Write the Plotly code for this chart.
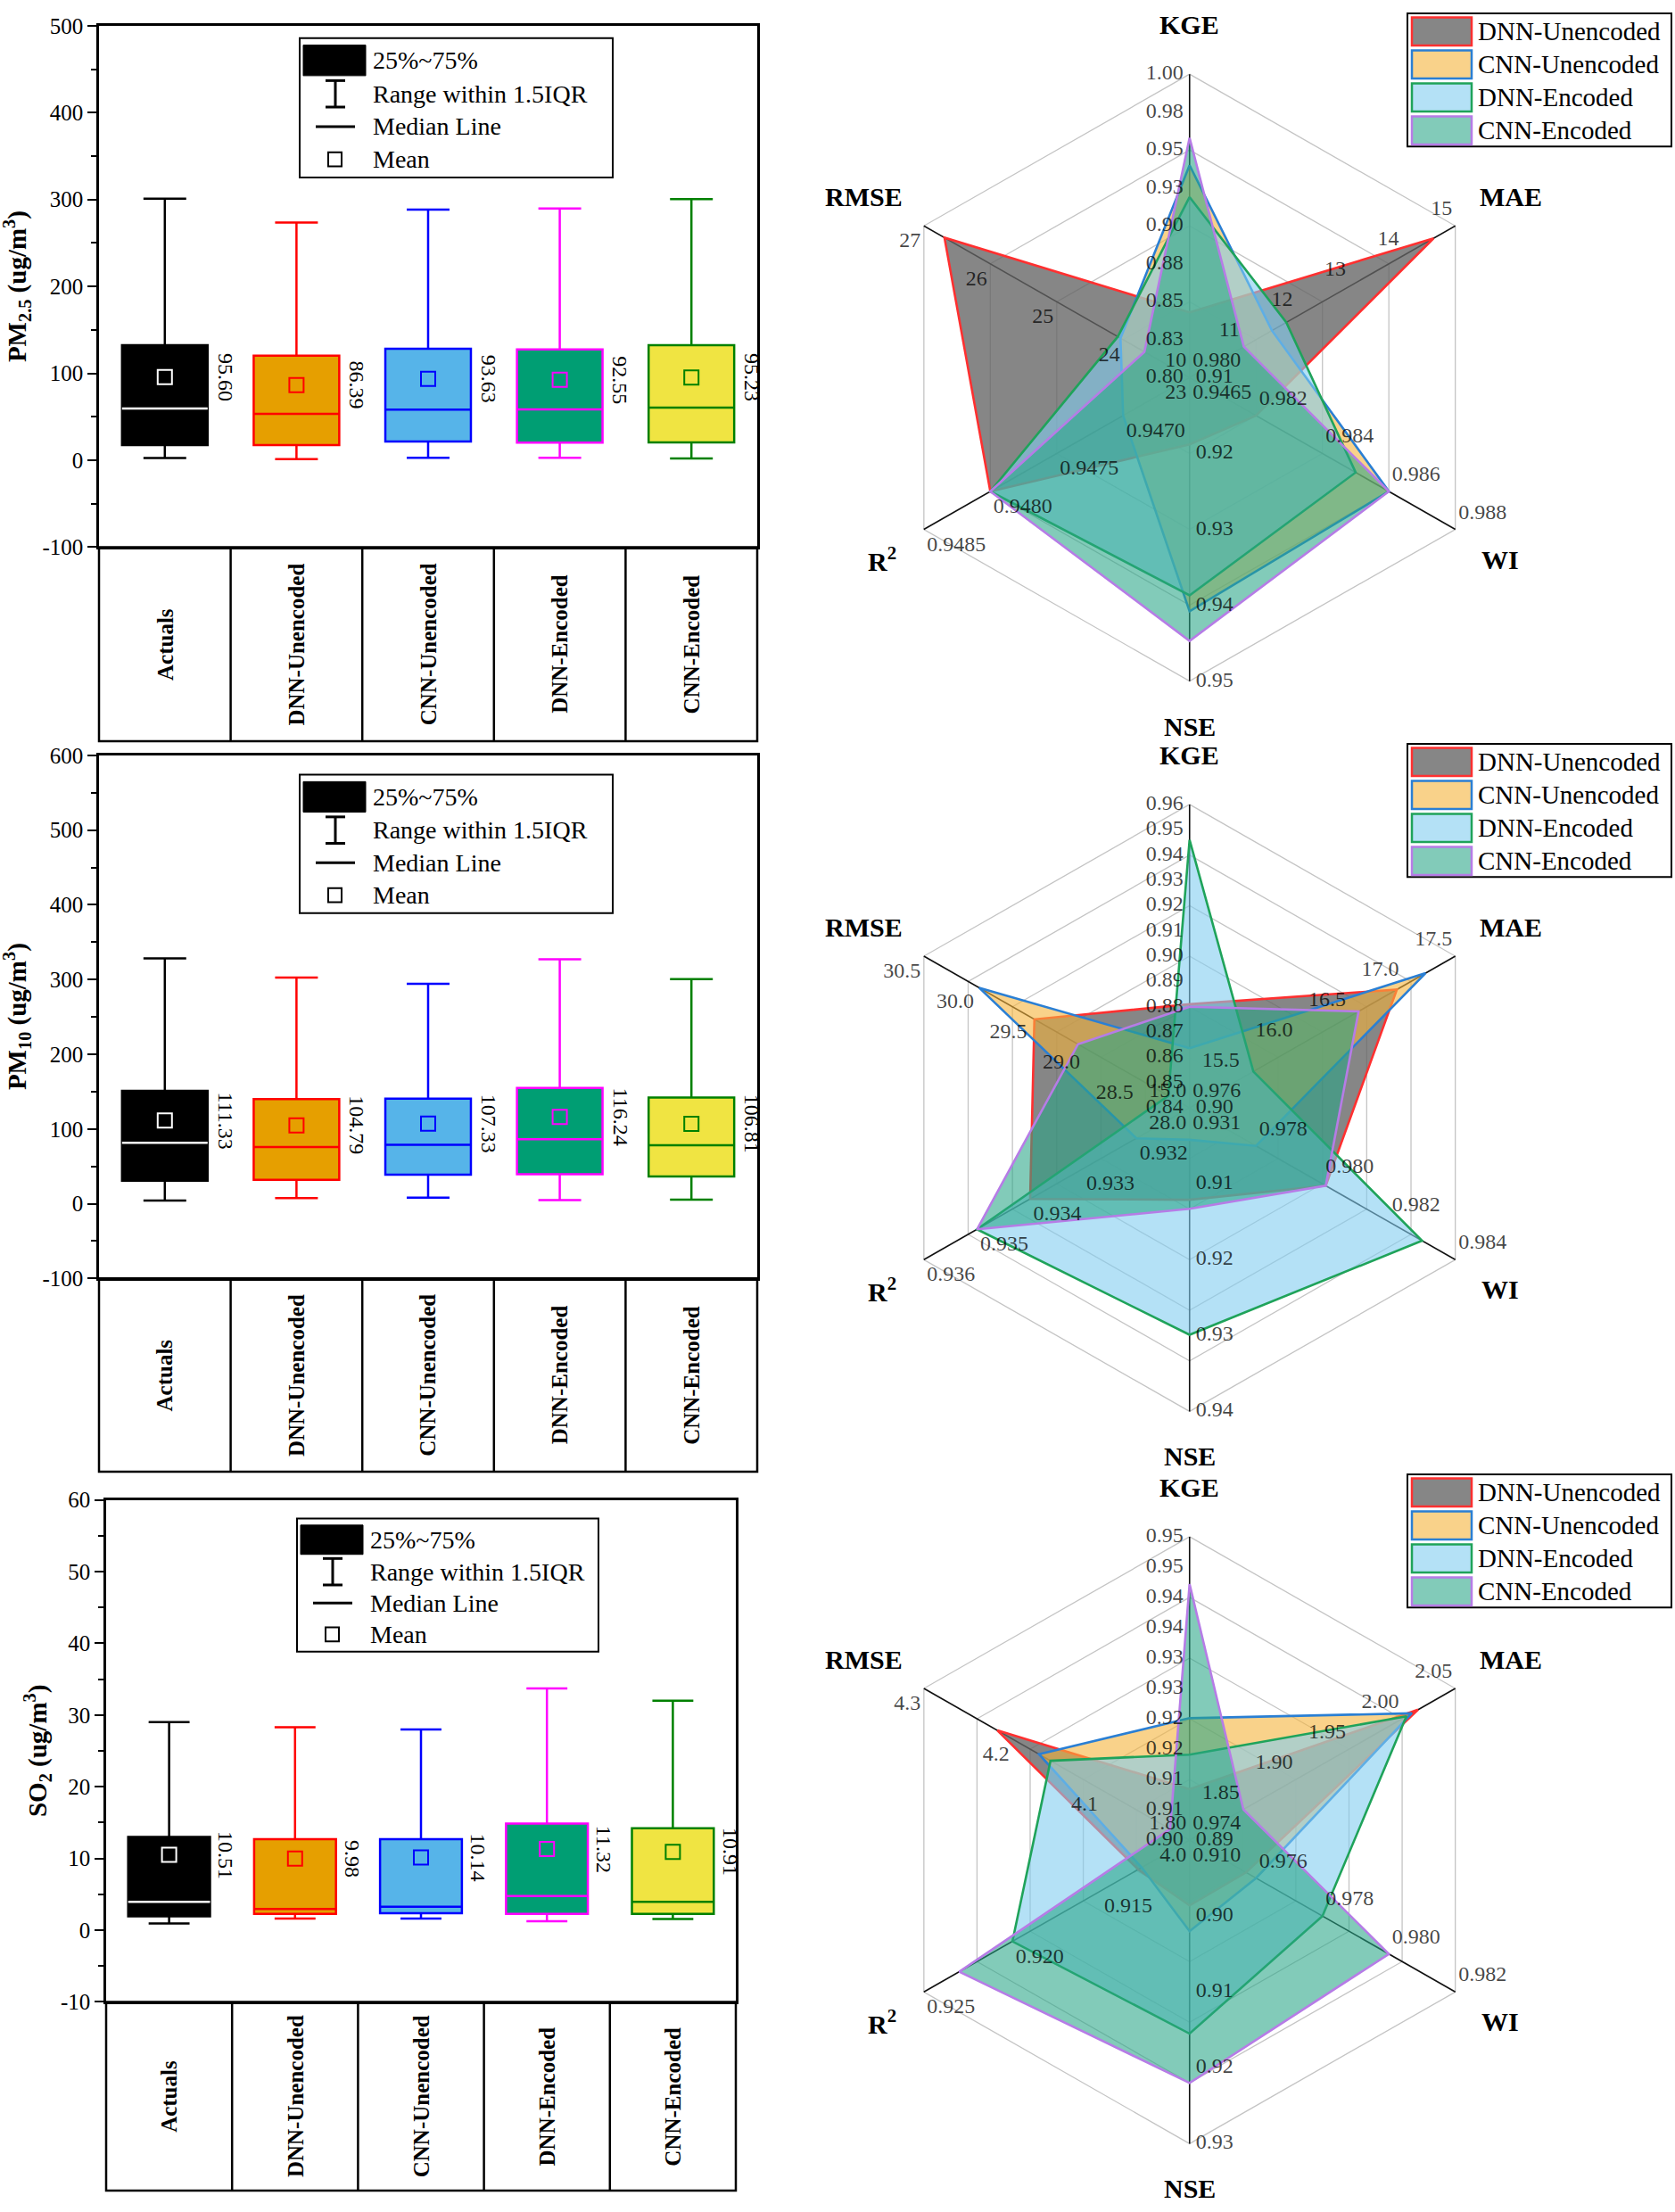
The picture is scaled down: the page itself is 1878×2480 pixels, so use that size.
import numpy as np
import plotly.graph_objects as go

W, H = 1878, 2480
SERIF = "Liberation Serif, Times New Roman, serif"


def px_x(px):
    return px / W


def px_y(py):
    return 1 - py / H


# ---------------- box plot data ----------------
categories = ["Actuals", "DNN-Unencoded", "CNN-Unencoded", "DNN-Encoded", "CNN-Encoded"]

pm25_lower = [2.5, 1.3, 2.9, 2.9, 2.1]
pm25_q1 = [17.4, 17.4, 21.4, 20.2, 20.6]
pm25_median = [59.4, 53.4, 58.2, 58.6, 60.6]
pm25_q3 = [132.3, 120.3, 128.3, 127.5, 132.3]
pm25_upper = [301.0, 273.5, 288.5, 289.7, 300.5]
pm25_mean = [95.60, 86.39, 93.63, 92.55, 95.23]

pm10_lower = [4.3, 7.4, 8.0, 4.9, 5.6]
pm10_q1 = [30.9, 32.1, 38.9, 39.5, 36.4]
pm10_median = [81.5, 75.9, 79.0, 86.4, 78.4]
pm10_q3 = [151.2, 140.1, 140.7, 154.9, 142.0]
pm10_upper = [328.4, 302.5, 294.4, 327.2, 300.6]
pm10_mean = [111.33, 104.79, 107.33, 116.24, 106.81]

so2_lower = [0.94, 1.63, 1.63, 1.25, 1.57]
so2_q1 = [1.94, 2.26, 2.38, 2.26, 2.26]
so2_median = [3.95, 2.95, 3.26, 4.76, 3.95]
so2_q3 = [13.0, 12.7, 12.7, 14.86, 14.2]
so2_upper = [29.0, 28.3, 28.0, 33.7, 32.0]
so2_mean = [10.51, 9.98, 10.14, 11.32, 10.91]

pm25_yticks = [-100, 0, 100, 200, 300, 400, 500]
pm10_yticks = [-100, 0, 100, 200, 300, 400, 500, 600]
so2_yticks = [-10, 0, 10, 20, 30, 40, 50, 60]

box_fill_colors = ["#000000", "#E69F00", "#56B4E9", "#009E73", "#F0E442"]
box_line_colors = ["#000000", "#FF0000", "#0000FF", "#FF00FF", "#008000"]
mean_colors = ["#FFFFFF", "#FF0000", "#0000FF", "#FF00FF", "#008000"]

box_key_labels = ["25%~75%", "Range within 1.5IQR", "Median Line", "Mean"]

# ---------------- radar data ----------------
radar_metrics = ["KGE", "MAE", "WI", "NSE", "R<sup>2</sup>", "RMSE"]
radar_series_names = ["DNN-Unencoded", "CNN-Unencoded", "DNN-Encoded", "CNN-Encoded"]

pm25_radar_min = [0.80, 10.0, 0.980, 0.91, 0.9465, 23.0]
pm25_radar_max = [1.00, 15.0, 0.988, 0.95, 0.9485, 27.0]
pm25_radar_ticks = [
    ["0.80", "0.83", "0.85", "0.88", "0.90", "0.93", "0.95", "0.98", "1.00"],
    ["10", "11", "12", "13", "14", "15"],
    ["0.980", "0.982", "0.984", "0.986", "0.988"],
    ["0.91", "0.92", "0.93", "0.94", "0.95"],
    ["0.9465", "0.9470", "0.9475", "0.9480", "0.9485"],
    ["23", "24", "25", "26", "27"],
]
pm25_dnn_unenc = [0.843, 14.59, 0.9820, 0.9188, 0.9480, 26.69]
pm25_cnn_unenc = [0.940, 11.55, 0.9860, 0.9408, 0.9470, 24.04]
pm25_dnn_enc = [0.919, 11.82, 0.9850, 0.9387, 0.9480, 24.08]
pm25_cnn_enc = [0.958, 11.02, 0.9860, 0.9447, 0.9480, 23.68]

pm10_radar_min = [0.84, 15.0, 0.976, 0.90, 0.931, 28.0]
pm10_radar_max = [0.96, 17.5, 0.984, 0.94, 0.936, 30.5]
pm10_radar_ticks = [
    ["0.84", "0.85", "0.86", "0.87", "0.88", "0.89", "0.90", "0.91", "0.92", "0.93", "0.94", "0.95", "0.96"],
    ["15.0", "15.5", "16.0", "16.5", "17.0", "17.5"],
    ["0.976", "0.978", "0.980", "0.982", "0.984"],
    ["0.90", "0.91", "0.92", "0.93", "0.94"],
    ["0.931", "0.932", "0.933", "0.934", "0.935", "0.936"],
    ["28.0", "28.5", "29.0", "29.5", "30.0", "30.5"],
]
pm10_dnn_unenc = [0.881, 16.95, 0.9801, 0.9121, 0.9340, 29.46]
pm10_cnn_unenc = [0.8636, 17.22, 0.9780, 0.9042, 0.9320, 29.98]
pm10_dnn_enc = [0.946, 15.60, 0.9830, 0.9299, 0.9350, 28.20]
pm10_cnn_enc = [0.880, 16.59, 0.9801, 0.9133, 0.9350, 29.05]

so2_radar_min = [0.90, 1.80, 0.974, 0.89, 0.910, 4.0]
so2_radar_max = [0.95, 2.05, 0.982, 0.93, 0.925, 4.3]
so2_radar_ticks = [
    ["0.90", "0.91", "0.91", "0.92", "0.92", "0.93", "0.93", "0.94", "0.94", "0.95", "0.95"],
    ["1.80", "1.85", "1.90", "1.95", "2.00", "2.05"],
    ["0.974", "0.976", "0.978", "0.980", "0.982"],
    ["0.89", "0.90", "0.91", "0.92", "0.93"],
    ["0.910", "0.915", "0.920", "0.925"],
    ["4.0", "4.1", "4.2", "4.3"],
]
so2_dnn_unenc = [0.9084, 2.015, 0.9757, 0.8986, 0.9129, 4.217]
so2_cnn_unenc = [0.9201, 2.009, 0.9760, 0.9020, 0.9127, 4.170]
so2_dnn_enc = [0.9141, 2.004, 0.9780, 0.9155, 0.9200, 4.157]
so2_cnn_enc = [0.9422, 1.8506, 0.9800, 0.9220, 0.9230, 4.022]

radar_fill = ["rgba(100,100,100,0.78)", "rgba(245,180,60,0.6)",
              "rgba(130,205,240,0.6)", "rgba(40,165,135,0.58)"]
radar_line = ["#FF3030", "#2A7FD4", "#1FA35A", "#B67CE6"]

# ---------------- layout config (positions / styles) ----------------
box_panels = [
    dict(lower=pm25_lower, q1=pm25_q1, median=pm25_median, q3=pm25_q3, upper=pm25_upper, mean=pm25_mean,
         yticks=pm25_yticks, title="<b>PM<sub>2.5</sub> (ug/m<sup>3</sup>)</b>", minor=50,
         left=111, right=849, top=16, axis=607, bottom=827, title_x=19, legend=(336, 30, 687, 188), shift=68),
    dict(lower=pm10_lower, q1=pm10_q1, median=pm10_median, q3=pm10_q3, upper=pm10_upper, mean=pm10_mean,
         yticks=pm10_yticks, title="<b>PM<sub>10</sub> (ug/m<sup>3</sup>)</b>", minor=50,
         left=111, right=849, top=843, axis=1436, bottom=1655, title_x=19, legend=(336, 865, 687, 1022), shift=68),
    dict(lower=so2_lower, q1=so2_q1, median=so2_median, q3=so2_q3, upper=so2_upper, mean=so2_mean,
         yticks=so2_yticks, title="<b>SO<sub>2</sub> (ug/m<sup>3</sup>)</b>", minor=5,
         left=119, right=825, top=1687, axis=2256, bottom=2470, title_x=42, legend=(333, 1708, 671, 1859), shift=64),
]

radar_panels = [
    dict(mn=pm25_radar_min, mx=pm25_radar_max, ticks=pm25_radar_ticks, rings=4,
         series=[pm25_dnn_unenc, pm25_cnn_unenc, pm25_dnn_enc, pm25_cnn_enc], cy=414.9, legend_y0=2),
    dict(mn=pm10_radar_min, mx=pm10_radar_max, ticks=pm10_radar_ticks, rings=6,
         series=[pm10_dnn_unenc, pm10_cnn_unenc, pm10_dnn_enc, pm10_cnn_enc], cy=1242.7, legend_y0=830),
    dict(mn=so2_radar_min, mx=so2_radar_max, ticks=so2_radar_ticks, rings=5,
         series=[so2_dnn_unenc, so2_cnn_unenc, so2_dnn_enc, so2_cnn_enc], cy=2072.7, legend_y0=1658),
]
radar_cx = 1333.75
radar_R = 344.0
radar_half_w = 460.0
radar_half_h = 400.0
radar_angles = [90, 30, -30, -90, -150, 150]
radar_label_pos = ["middle left", "top left", "top right", "middle right", "bottom right", "bottom left"]
radar_title_offsets = [(0, -56), (62, -33), (50, 34), (0, 51), (-47, 34), (-67, -33)]

fig = go.Figure()
layout = dict(width=W, height=H, margin=dict(l=0, r=0, t=0, b=0),
              paper_bgcolor="white", plot_bgcolor="white", showlegend=False,
              boxmode="overlay", font=dict(family=SERIF, color="black"))
shapes = []
annotations = []


def add_text(x, y, text, size, xref="paper", yref="paper", angle=0, xanchor="center", **kw):
    annotations.append(dict(x=x, y=y, xref=xref, yref=yref, text=text, textangle=angle,
                            xanchor=xanchor, yanchor="middle", showarrow=False,
                            font=dict(family=SERIF, size=size, color="black"), **kw))


# ---------------- box plots ----------------
for i, p in enumerate(box_panels):
    idx = i + 1
    xname = "xaxis" if idx == 1 else f"xaxis{idx}"
    yname = "yaxis" if idx == 1 else f"yaxis{idx}"
    xref = "x" if idx == 1 else f"x{idx}"
    yref = "y" if idx == 1 else f"y{idx}"

    for c, cat in enumerate(categories):
        fig.add_trace(go.Box(
            x=[cat], q1=[p["q1"][c]], median=[p["median"][c]], q3=[p["q3"][c]],
            lowerfence=[p["lower"][c]], upperfence=[p["upper"][c]],
            fillcolor=box_fill_colors[c], line=dict(color=box_line_colors[c], width=2.5),
            width=0.65, whiskerwidth=0.5, boxpoints=False, xaxis=xref, yaxis=yref,
            hoverinfo="skip", showlegend=False))
    # white median line on the black Actuals box
    m0 = p["median"][0]
    fig.add_trace(go.Box(
        x=[categories[0]], q1=[m0], median=[m0], q3=[m0], lowerfence=[m0], upperfence=[m0],
        fillcolor="white", line=dict(color="white", width=2.5), width=0.65, whiskerwidth=0,
        boxpoints=False, xaxis=xref, yaxis=yref, hoverinfo="skip", showlegend=False))
    # means
    fig.add_trace(go.Scatter(
        x=categories, y=p["mean"], mode="markers",
        marker=dict(symbol="square-open", size=16, color=mean_colors, line=dict(width=2)),
        xaxis=xref, yaxis=yref, hoverinfo="skip", showlegend=False, cliponaxis=False))

    yt = p["yticks"]
    layout[xname] = dict(domain=[px_x(p["left"]), px_x(p["right"])], anchor=yref, type="category",
                         categoryorder="array", categoryarray=categories, range=[-0.5, 4.5],
                         showticklabels=False, ticks="", showline=True, mirror=True,
                         linecolor="black", linewidth=2.5, showgrid=False, zeroline=False, fixedrange=True)
    layout[yname] = dict(domain=[px_y(p["axis"]), px_y(p["top"])], anchor=xref, range=[yt[0], yt[-1]],
                         tickmode="array", tickvals=yt, ticktext=[str(v) for v in yt],
                         ticks="outside", ticklen=10, tickwidth=2, tickcolor="black",
                         showline=True, mirror=True, linecolor="black", linewidth=2.5,
                         showgrid=False, zeroline=False, fixedrange=True,
                         tickfont=dict(family=SERIF, size=25, color="black"),
                         minor=dict(ticks="outside", ticklen=6, tickwidth=2, tickcolor="black",
                                    tickmode="linear", tick0=yt[0], dtick=p["minor"], showgrid=False))

    # category panel below
    shapes.append(dict(type="rect", xref="paper", yref="paper",
                       x0=px_x(p["left"]), x1=px_x(p["right"]), y0=px_y(p["bottom"]), y1=px_y(p["axis"]),
                       line=dict(color="black", width=2.5), fillcolor="rgba(0,0,0,0)", layer="above"))
    for k in range(1, len(categories)):
        shapes.append(dict(type="line", xref=xref, yref="paper", x0=k - 0.5, x1=k - 0.5,
                           y0=px_y(p["bottom"]), y1=px_y(p["axis"]),
                           line=dict(color="black", width=2.5)))
    for c, cat in enumerate(categories):
        add_text(cat, px_y((p["axis"] + p["bottom"]) / 2), f"<b>{cat}</b>", 25, xref=xref, angle=-90)
        add_text(cat, p["mean"][c], f"{p['mean'][c]:.2f}", 24, xref=xref, yref=yref, angle=90,
                 xshift=p["shift"])
    # y title
    add_text(px_x(p["title_x"]), px_y((p["top"] + p["axis"]) / 2), p["title"], 29, angle=-90)

    # key box
    x0, y0, x1, y1 = p["legend"]
    hh = y1 - y0
    rows = [y0 + hh * f for f in (0.16, 0.40, 0.635, 0.87)]
    shapes.append(dict(type="rect", xref="paper", yref="paper", x0=px_x(x0), x1=px_x(x1),
                       y0=px_y(y1), y1=px_y(y0), line=dict(color="black", width=2), fillcolor="white"))
    shapes.append(dict(type="rect", xref="paper", yref="paper", x0=px_x(x0 + 4), x1=px_x(x0 + 74),
                       y0=px_y(rows[0] + hh * 0.11), y1=px_y(rows[0] - hh * 0.11),
                       line=dict(color="black", width=1), fillcolor="black"))
    wx = x0 + 40
    shapes.append(dict(type="line", xref="paper", yref="paper", x0=px_x(wx), x1=px_x(wx),
                       y0=px_y(rows[1] - 15), y1=px_y(rows[1] + 15), line=dict(color="black", width=3)))
    for dy in (-15, 15):
        shapes.append(dict(type="line", xref="paper", yref="paper", x0=px_x(wx - 11), x1=px_x(wx + 11),
                           y0=px_y(rows[1] + dy), y1=px_y(rows[1] + dy), line=dict(color="black", width=3)))
    shapes.append(dict(type="line", xref="paper", yref="paper", x0=px_x(x0 + 18), x1=px_x(x0 + 62),
                       y0=px_y(rows[2]), y1=px_y(rows[2]), line=dict(color="black", width=3)))
    shapes.append(dict(type="rect", xref="paper", yref="paper", x0=px_x(x0 + 32), x1=px_x(x0 + 47),
                       y0=px_y(rows[3] + 8), y1=px_y(rows[3] - 8), line=dict(color="black", width=2),
                       fillcolor="white"))
    for r_, lab in zip(rows, box_key_labels):
        add_text(px_x(x0 + 80), px_y(r_), lab, 28, xanchor="left")

# ---------------- radar charts ----------------
th = np.radians(radar_angles)
ux, uy = np.cos(th), np.sin(th)
for i, p in enumerate(radar_panels):
    idx = 4 + i
    xref, yref = f"x{idx}", f"y{idx}"
    R = radar_R
    cy = p["cy"]
    common = dict(xaxis=xref, yaxis=yref, hoverinfo="skip", showlegend=False)

    rx, ry = [], []
    for k in range(1, p["rings"] + 1):
        f = k / p["rings"]
        rx += list(f * ux) + [f * ux[0], None]
        ry += list(f * uy) + [f * uy[0], None]
    fig.add_trace(go.Scatter(x=rx, y=ry, mode="lines", line=dict(color="#C4C4C4", width=1.3), **common))

    sx, sy = [], []
    for j in range(6):
        sx += [0, ux[j], None]
        sy += [0, uy[j], None]
    fig.add_trace(go.Scatter(x=sx, y=sy, mode="lines", line=dict(color="#111111", width=1.6), **common))

    mn = np.array(p["mn"])
    mx = np.array(p["mx"])
    for s in range(4):
        vals = np.array(p["series"][s])
        nr = (vals - mn) / (mx - mn)
        xs = list(nr * ux) + [nr[0] * ux[0]]
        ys = list(nr * uy) + [nr[0] * uy[0]]
        fig.add_trace(go.Scatter(x=xs, y=ys, mode="lines", fill="toself", fillcolor=radar_fill[s],
                                 line=dict(color=radar_line[s], width=2.6), cliponaxis=False, **common))

    gap = 7 / R
    for j in range(6):
        labels = p["ticks"][j]
        r = np.linspace(0, 1, len(labels))
        lx = r * ux[j] + gap * (-uy[j])
        ly = r * uy[j] + gap * ux[j]
        fig.add_trace(go.Scatter(x=lx, y=ly, mode="text", text=labels, textposition=radar_label_pos[j],
                                 textfont=dict(family=SERIF, size=24, color="rgba(0,0,0,0.74)"),
                                 cliponaxis=False, **common))

    layout[f"xaxis{idx}"] = dict(domain=[px_x(radar_cx - radar_half_w), px_x(radar_cx + radar_half_w)],
                                 range=[-radar_half_w / R, radar_half_w / R], anchor=yref,
                                 visible=False, fixedrange=True)
    layout[f"yaxis{idx}"] = dict(domain=[px_y(cy + radar_half_h), px_y(cy - radar_half_h)],
                                 range=[-radar_half_h / R, radar_half_h / R], anchor=xref,
                                 visible=False, fixedrange=True)

    for j in range(6):
        vx = radar_cx + R * ux[j] + radar_title_offsets[j][0]
        vy = cy - R * uy[j] + radar_title_offsets[j][1]
        add_text(px_x(vx), px_y(vy), f"<b>{radar_metrics[j]}</b>", 30)

    # legend box
    ly0 = p["legend_y0"]
    shapes.append(dict(type="rect", xref="paper", yref="paper", x0=px_x(1578), x1=px_x(1874),
                       y0=px_y(ly0 + 151), y1=px_y(ly0), line=dict(color="black", width=2),
                       fillcolor="white"))
    for s in range(4):
        rc = ly0 + 20.5 + 37.4 * s
        shapes.append(dict(type="rect", xref="paper", yref="paper", x0=px_x(1583), x1=px_x(1650),
                           y0=px_y(rc + 16), y1=px_y(rc - 16), line=dict(color=radar_line[s], width=2.5),
                           fillcolor=radar_fill[s]))
        add_text(px_x(1655), px_y(rc), radar_series_names[s], 29, xanchor="left")

layout["shapes"] = shapes
layout["annotations"] = annotations
fig.update_layout(**layout)
fig.write_html("out.html", config={"displayModeBar": False},
               post_script="document.body.style.margin='0';document.body.style.overflow='hidden';")
